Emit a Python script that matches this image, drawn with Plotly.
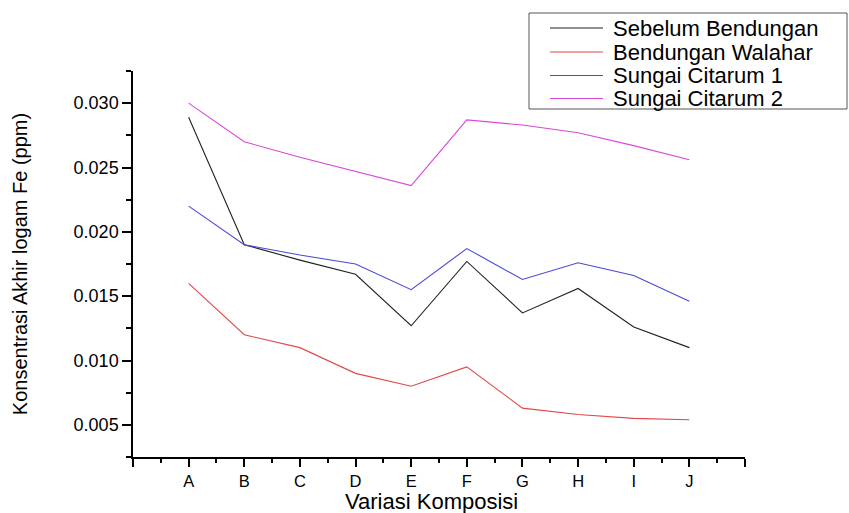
import plotly.graph_objects as go

categories = ["A", "B", "C", "D", "E", "F", "G", "H", "I", "J"]
positions = [1, 2, 3, 4, 5, 6, 7, 8, 9, 10]

sebelum_bendungan = [0.0289, 0.0190, 0.0178, 0.0167, 0.0127, 0.0177, 0.0137, 0.0156, 0.0126, 0.0110]
bendungan_walahar = [0.0160, 0.0120, 0.0110, 0.0090, 0.0080, 0.0095, 0.0063, 0.0058, 0.0055, 0.0054]
sungai_citarum_1 = [0.0220, 0.0190, 0.0182, 0.0175, 0.0155, 0.0187, 0.0163, 0.0176, 0.0166, 0.0146]
sungai_citarum_2 = [0.0300, 0.0270, 0.0258, 0.0247, 0.0236, 0.0287, 0.0283, 0.0277, 0.0267, 0.0256]

series_names = ["Sebelum Bendungan", "Bendungan Walahar", "Sungai Citarum 1", "Sungai Citarum 2"]
series_values = [sebelum_bendungan, bendungan_walahar, sungai_citarum_1, sungai_citarum_2]
series_colors = ["#222222", "#e04848", "#4848d8", "#d848d8"]

y_ticks = [0.005, 0.010, 0.015, 0.020, 0.025, 0.030]
y_ticktext = ["0.005", "0.010", "0.015", "0.020", "0.025", "0.030"]

x_title = "Variasi Komposisi"
y_title = "Konsentrasi Akhir logam Fe (ppm)"

FONT = "Liberation Sans, Arial, sans-serif"

W, H = 849, 513
ML, MR, MT, MB = 133, 104, 71, 56
PW, PH = W - ML - MR, H - MT - MB


def px_x(px):
    return (px - ML) / PW


def px_y(py):
    return (H - MB - py) / PH


fig = go.Figure()
for name, vals, col in zip(series_names, series_values, series_colors):
    fig.add_trace(go.Scatter(x=positions, y=vals, mode="lines", name=name,
                             line=dict(color=col, width=1.1), showlegend=False))

# Legend drawn as a boxed key (Origin style)
shapes = [dict(type="rect", xref="paper", yref="paper",
               x0=px_x(529), x1=px_x(847), y0=px_y(109), y1=px_y(13),
               line=dict(color="#555555", width=1), fillcolor="white", layer="above")]
annotations = []
row_y = [28, 52, 75.5, 98.5]
for name, col, ry in zip(series_names, series_colors, row_y):
    shapes.append(dict(type="line", xref="paper", yref="paper",
                       x0=px_x(550), x1=px_x(603), y0=px_y(ry), y1=px_y(ry),
                       line=dict(color=col, width=1.1), layer="above"))
    annotations.append(dict(xref="paper", yref="paper", x=px_x(611), y=px_y(ry),
                            xanchor="left", yanchor="middle", showarrow=False,
                            text=name, font=dict(size=22, family=FONT, color="black")))

# x-axis title placed below the tick labels
annotations.append(dict(xref="paper", yref="paper", x=px_x(431), y=px_y(501),
                        xanchor="center", yanchor="middle", showarrow=False,
                        text=x_title, font=dict(size=22, family=FONT, color="black")))

x_tickvals = [0] + positions + [11]
x_ticktext = [""] + categories + [""]

fig.update_layout(
    width=W, height=H,
    margin=dict(l=ML, r=MR, t=MT, b=MB, autoexpand=False),
    paper_bgcolor="white", plot_bgcolor="white",
    font=dict(family=FONT, color="black"),
    showlegend=False,
    shapes=shapes,
    annotations=annotations,
)

fig.update_xaxes(
    range=[0, 11], tickmode="array", tickvals=x_tickvals, ticktext=x_ticktext,
    automargin=False,
    showgrid=False, zeroline=False, showline=True, linecolor="black", linewidth=1.5,
    ticks="outside", ticklen=8, tickwidth=1.5, tickcolor="black",
    tickfont=dict(size=16.5, family=FONT, color="black"),
    minor=dict(tickmode="array", tickvals=[p + 0.5 for p in [0] + positions], ticks="outside",
               ticklen=4, tickwidth=1.5, tickcolor="black", showgrid=False),
)

fig.update_yaxes(
    range=[0.0025, 0.0325], tickmode="array", tickvals=y_ticks, ticktext=y_ticktext,
    automargin=False,
    showgrid=False, zeroline=False, showline=True, linecolor="black", linewidth=1.5,
    ticks="outside", ticklen=9, tickwidth=1.5, tickcolor="black",
    tickfont=dict(size=18, family=FONT, color="black"),
    minor=dict(tickmode="array", tickvals=[0.0025, 0.0075, 0.0125, 0.0175, 0.0225, 0.0275, 0.0325],
               ticks="outside", ticklen=5, tickwidth=1.5, tickcolor="black", showgrid=False),
    title=dict(text=y_title, font=dict(size=20, family=FONT, color="black"), standoff=41),
)

fig.write_html("out.html")
